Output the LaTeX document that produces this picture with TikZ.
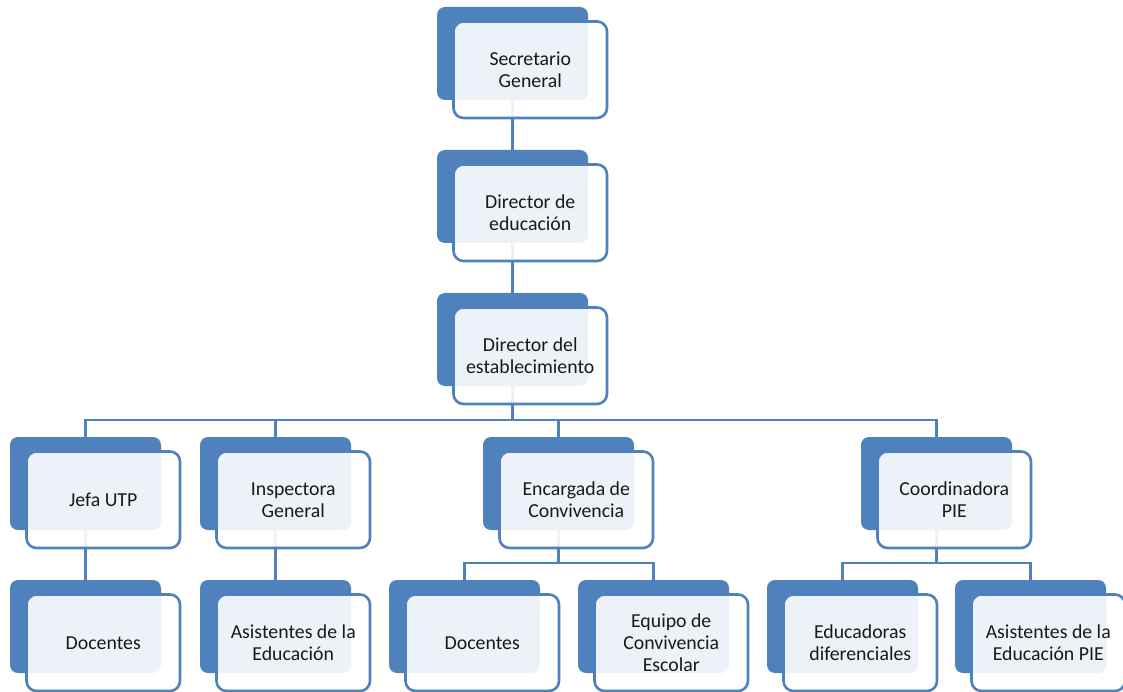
\documentclass[tikz,border=0pt]{standalone}
\usepackage{fontspec}
\setmainfont{Carlito}
\usetikzlibrary{calc}
\definecolor{obl}{HTML}{4F81BD}
\pgfdeclarelayer{bg}
\pgfsetlayers{bg,main}
\tikzset{
  backbox/.style={anchor=north west, fill=obl, draw=none, rounded corners=8pt,
    minimum width=151pt, minimum height=93pt, inner sep=0pt, outer sep=0pt},
  frontbox/.style={anchor=north west, fill=white, fill opacity=0.9, text opacity=1,
    draw=obl, line width=2.6pt, rounded corners=10pt,
    minimum width=153.5pt, minimum height=96.5pt, inner sep=0pt, outer sep=0pt,
    align=center, text=black!90, font=\fontsize{19.8}{22}\selectfont},
  conn/.style={draw=obl, line width=2.6pt}
}
\newcommand{\orgbox}[4]{%
  \node[backbox] (#1b) at (#2,#3) {};
  \node[frontbox] (#1) at ($(#2,#3)+(16.5,14.5)$) {#4};}
\begin{document}
\begin{tikzpicture}[x=1pt,y=-1pt]
\useasboundingbox (0,0) rectangle (1123,692);
\orgbox{sg}{437}{7}{Secretario\\General}
\orgbox{de}{437}{150}{Director de\\educación}
\orgbox{da}{437}{293}{Director del\\establecimiento}
\orgbox{ju}{10}{437}{Jefa UTP}
\orgbox{ig}{200}{437}{Inspectora\\General}
\orgbox{ec}{483}{437}{Encargada de\\Convivencia}
\orgbox{cp}{861}{437}{Coordinadora\\PIE}
\orgbox{dA}{10}{580}{Docentes}
\orgbox{ae}{200}{580}{Asistentes de la\\Educación}
\orgbox{dB}{389}{580}{Docentes}
\orgbox{eq}{578}{580}{Equipo de\\Convivencia\\Escolar}
\orgbox{ed}{767}{580}{Educadoras\\diferenciales}
\orgbox{ap}{955}{580}{Asistentes de la\\Educación PIE}
\begin{pgfonlayer}{bg}
  \coordinate (busA) at ($(dab.south)+(0,34)$);
  \coordinate (busB) at ($(ecb.south)+(0,33)$);
  \coordinate (busC) at ($(cpb.south)+(0,33)$);
  \draw[conn] (sgb.south) -- (deb.north);
  \draw[conn] (deb.south) -- (dab.north);
  \draw[conn] (dab.south) -- (busA);
  \draw[conn] (jub.north) |- (busA) -| (cpb.north);
  \draw[conn] (busA) -| (igb.north);
  \draw[conn] (busA) -| (ecb.north);
  \draw[conn] (jub.south) -- (dAb.north);
  \draw[conn] (igb.south) -- (aeb.north);
  \draw[conn] (ecb.south) -- (busB);
  \draw[conn] (dBb.north) |- (busB) -| (eqb.north);
  \draw[conn] (cpb.south) -- (busC);
  \draw[conn] (edb.north) |- (busC) -| (apb.north);
\end{pgfonlayer}
\end{tikzpicture}
\end{document}
